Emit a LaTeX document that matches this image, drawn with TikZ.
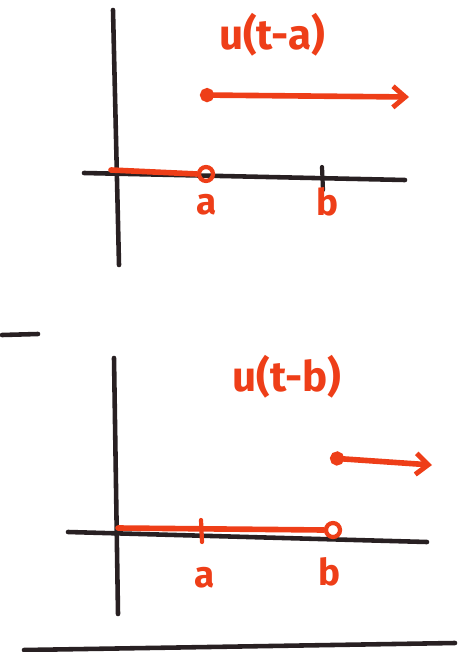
\documentclass[tikz,border=0pt]{standalone}
\usepackage{fontspec}
\setmainfont{Fira Sans}
\usetikzlibrary{arrows.meta}
\definecolor{pen}{RGB}{238,62,24}
\definecolor{ink}{RGB}{40,32,34}

\begin{document}
\begin{tikzpicture}[x=0.02cm,y=-0.02cm]
        \tikzset{
            axis/.style={ink, line width=2.6pt, line cap=round},
            ustep/.style={pen, line width=3.2pt, line cap=round},
            ray/.style={ustep, {Circle[length=8pt]}-{Straight Barb[length=7pt,width=12pt,line width=2.8pt]}},
            hole/.style={circle, draw=pen, line width=2.4pt, inner sep=0pt, minimum size=0.28cm},
            tick/.style={line width=2.4pt, line cap=round},
            lbl/.style={text=pen, font=\fontsize{21}{21}\selectfont\bfseries},
            fn/.style={text=pen, font=\fontsize{24}{24}\selectfont\bfseries}
        }
        \useasboundingbox (0,0) rectangle (458,652);
        % top panel: u(t-a)
        \coordinate (yt1) at (113,10);
        \coordinate (yb1) at (119,265);
        \coordinate (xl1) at (84,173);
        \coordinate (xr1) at (405,180);
        \draw[axis] (yt1) -- (yb1);
        \draw[axis] (xl1) -- (xr1);
        \coordinate (z1) at (111,170);
        \node[hole] (ha) at (206,174) {};
        \draw[ustep] (z1) -- (ha.west);
        \coordinate (tb1) at (322,167);
        \coordinate (bb1) at (323,190);
        \draw[tick, ink] (tb1) -- (bb1);
        \node[lbl] (la1) at (207,205) {a};
        \node[lbl] (lb1) at (328,202) {b};
        \node[fn] (f1) at (272,35) {u(t-a)};
        \coordinate (s1) at (200,95);
        \coordinate (e1) at (409,97);
        \draw[ray] (s1) -- (e1);
        % bottom panel: u(t-b)
        \coordinate (d1) at (2,335);
        \coordinate (d2) at (38,334);
        \draw[axis] (d1) -- (d2);
        \coordinate (yt2) at (114,358);
        \coordinate (yb2) at (118,614);
        \coordinate (xl2) at (68,532);
        \coordinate (xr2) at (427,542);
        \draw[axis] (yt2) -- (yb2);
        \draw[axis] (xl2) -- (xr2);
        \coordinate (z2) at (118,528);
        \node[hole] (hb) at (333,530) {};
        \draw[ustep] (z2) -- (hb.west);
        \coordinate (ta2) at (201,520);
        \coordinate (ba2) at (202,542);
        \draw[tick, pen] (ta2) -- (ba2);
        \node[lbl] (la2) at (205,578) {a};
        \node[lbl] (lb2) at (330,572) {b};
        \node[fn] (f2) at (287,377) {u(t-b)};
        \coordinate (s2) at (330,458);
        \coordinate (e2) at (432,465);
        \draw[ray] (s2) -- (e2);
        \coordinate (g1) at (24,650);
        \coordinate (g2) at (455,643);
        \draw[axis] (g1) -- (g2);
\end{tikzpicture}
\end{document}
